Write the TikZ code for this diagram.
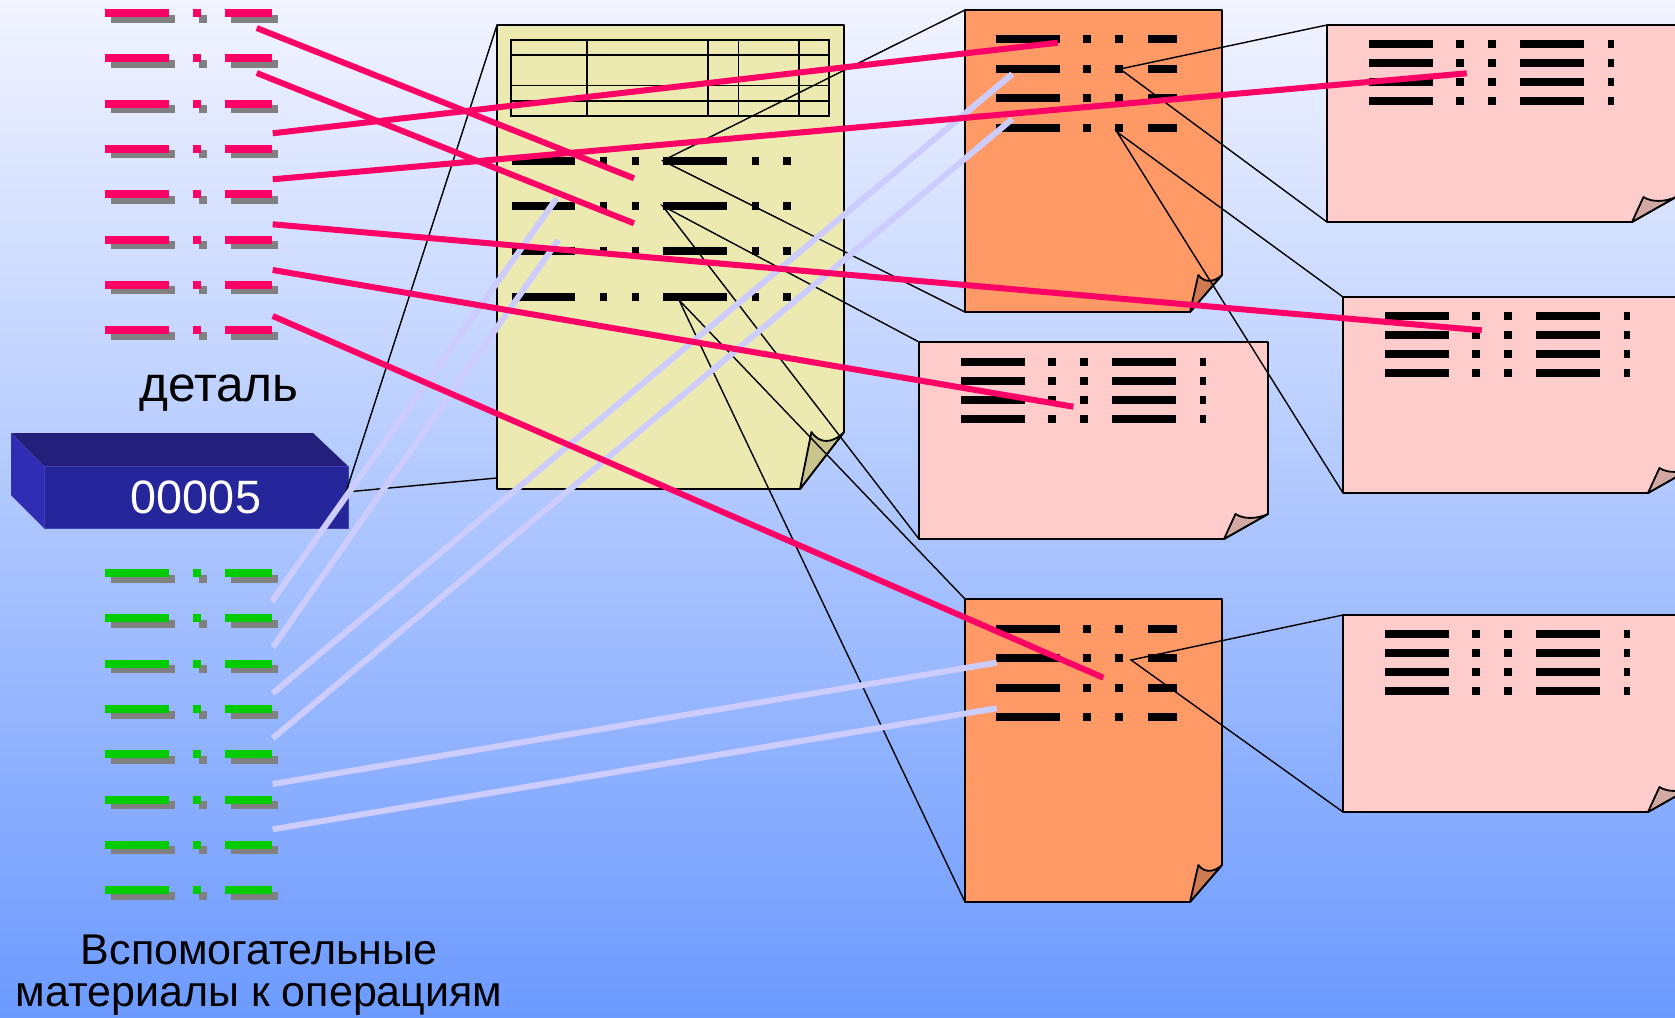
\documentclass[tikz,border=0pt]{standalone}
\usepackage{fontspec}
\setmainfont{Liberation Sans}

\definecolor{bgtop}{RGB}{242,244,255}
\definecolor{bgbot}{RGB}{108,154,255}
\definecolor{partred}{RGB}{255,0,102}
\definecolor{auxgreen}{RGB}{0,204,0}
\definecolor{dropgray}{RGB}{128,128,128}
\definecolor{linklav}{RGB}{204,204,255}
\definecolor{sheetyellow}{RGB}{236,234,176}
\definecolor{foldyellow}{RGB}{200,196,140}
\definecolor{sheetorange}{RGB}{255,153,102}
\definecolor{foldorange}{RGB}{208,122,82}
\definecolor{sheetpink}{RGB}{255,204,204}
\definecolor{foldpink}{RGB}{210,168,162}
\definecolor{boxfront}{RGB}{38,38,155}
\definecolor{boxtop}{RGB}{34,32,122}
\definecolor{boxside}{RGB}{48,44,180}
\definecolor{boxedge}{RGB}{62,62,190}

% A sheet of paper with a curled lower-right corner:
% #1 left, #2 top, #3 right, #4 bottom, #5 curl width, #6 curl height, #7 colour suffix
\newcommand\papersheet[7]{%
  \filldraw[sheetline, fill=sheet#7] (#1,#2) -- (#3,#2) -- (#3,#4-#6) -- (#3-#5,#4) -- (#1,#4) -- cycle;
  \filldraw[sheetline, fill=fold#7] (#3-#5,#4) -- (#3-0.74*#5,#4-#6)
     .. controls (#3-0.55*#5,#4-0.78*#6) and (#3-0.25*#5,#4-0.8*#6) .. (#3,#4-#6) -- cycle;
}
% Four rows of text marks: #1 left, #2 top of first row, #3 row pitch, #4 offset/width list
\newcommand\markrows[4]{%
  \foreach \k in {0,...,3}{\foreach \o/\w in {#4}{\fill[black] (#1+\o,#2+\k*#3) rectangle ++(\w,8);}}%
}
% Eight rows of coloured marks with a grey drop shadow: #1 top of first row, #2 colour
\newcommand\legendrows[2]{%
  \foreach \k in {0,...,7}{\foreach \o/\w in {105/64,193.3/7.7,225.3/46.7}{%
    \fill[dropgray] (\o+5.5,#1+\k*45.33+5.5) rectangle ++(\w,8);
    \fill[#2] (\o,#1+\k*45.33) rectangle ++(\w,8);}}%
}

\begin{document}
\begin{tikzpicture}[x=0.5pt,y=-0.5pt,
  sheetline/.style={draw=black, line width=0.9pt, line join=round},
  gridline/.style={draw=black, line width=0.8pt},
  callout/.style={draw=black, line width=0.7pt},
  partlink/.style={draw=partred, line width=3pt},
  auxlink/.style={draw=linklav, line width=3pt},
  caption/.style={text=black, font=\fontsize{21.5}{21}\selectfont, align=center, inner sep=0pt}]

\useasboundingbox (0,0) rectangle (1675,1017);
\clip (0,0) rectangle (1675,1017);
\shade[top color=bgtop, bottom color=bgbot] (0,0) rectangle (1675,1017);

% ---- part rows (red) and auxiliary material rows (green)
\legendrows{9}{partred}
\legendrows{569}{auxgreen}

\node[caption, anchor=base, font=\fontsize{24.8}{28}\selectfont] (partlabel) at (219,401) {деталь};
\node[caption, anchor=base] (auxlabel) at (259,1006) {Вспомогательные\\материалы к операциям};

% ---- the part block
\fill[boxtop] (11,433) -- (313,433) -- (348,466) -- (44,466) -- cycle;
\fill[boxside] (11,433) -- (44,466) -- (44,528) -- (11,495) -- cycle;
\filldraw[fill=boxfront, draw=boxedge, line width=0.5pt] (44,466) rectangle (348,528);
\node[text=white, font=\fontsize{23.4}{26}\selectfont, anchor=base, inner sep=0pt] (partid) at (196,513) {00005};

% ---- route sheet (yellow) with its title table
\papersheet{497}{25}{844}{489}{44}{57}{yellow}
\draw[gridline] (511,40) rectangle (829,116);
\foreach \yy in {55,85.3,100.7} \draw[gridline] (511,\yy) -- (829,\yy);
\foreach \xx in {586.7,708,738.3,799} \draw[gridline] (\xx,40) -- (\xx,116);
\markrows{497}{156.7}{45.3}{14.7/63.3,103/7.3,134.7/7.3,166.3/64,254.7/7.3,286.3/7.3}

% ---- operation sheets (orange)
\papersheet{965}{10}{1222}{312}{32}{37}{orange}
\markrows{965}{35.3}{29.4}{31/64,118/8,150/8,183/29}
\papersheet{965}{599}{1222}{902}{32}{37}{orange}
\markrows{965}{625}{29.4}{31/64,118/8,150/8,183/29}

% ---- detail sheets (pink)
\papersheet{919}{342}{1268}{539}{44}{25}{pink}
\markrows{919}{357.7}{19.1}{41.5/64,129.3/8,161.3/8,193.3/64,281.3/6}
\papersheet{1327}{25}{1676}{222}{44}{25}{pink}
\markrows{1327}{40}{19.1}{41.5/64,129.3/8,161.3/8,193.3/64,281.3/6}
\papersheet{1343}{297}{1692}{493}{44}{25}{pink}
\markrows{1343}{312}{19.1}{41.5/64,129.3/8,161.3/8,193.3/64,281.3/6}
\papersheet{1343}{615}{1692}{812}{44}{25}{pink}
\markrows{1343}{630}{19.1}{41.5/64,129.3/8,161.3/8,193.3/64,281.3/6}

% ---- named anchor points
\coordinate (box-e) at (346,492);
\coordinate (route-nw) at (497,25);
\coordinate (route-w) at (497,478);
\coordinate (route-r1) at (662.7,160.7);
\coordinate (route-r2) at (662.7,206);
\coordinate (route-r4) at (679,300);
\coordinate (opA-nw) at (965,10);
\coordinate (opA-sw) at (965,312);
\coordinate (opA-r2) at (1120,69);
\coordinate (opA-r4) at (1117,132);
\coordinate (opB-nw) at (965,599);
\coordinate (opB-sw) at (965,902);
\coordinate (opB-r2) at (1131,660);
\coordinate (detC-nw) at (919,342);
\coordinate (detC-sw) at (919,539);
\coordinate (detA-nw) at (1327,25);
\coordinate (detA-sw) at (1327,222);
\coordinate (detB-nw) at (1343,297);
\coordinate (detB-sw) at (1343,493);
\coordinate (detD-nw) at (1343,615);
\coordinate (detD-sw) at (1343,812);

% ---- zoom call-outs
\draw[callout] (route-nw) -- (box-e) -- (route-w);
\draw[callout] (opA-nw) -- (route-r1) -- (opA-sw);
\draw[callout] (detC-nw) -- (route-r2) -- (detC-sw);
\draw[callout] (opB-nw) -- (route-r4) -- (opB-sw);
\draw[callout] (detA-nw) -- (opA-r2) -- (detA-sw);
\draw[callout] (detB-nw) -- (opA-r4) -- (detB-sw);
\draw[callout] (detD-nw) -- (opB-r2) -- (detD-sw);

% ---- auxiliary material links
\coordinate (aux1) at (271.7,601.7);  \coordinate (aux1t) at (556.7,198.3);
\coordinate (aux2) at (272.7,647.3);  \coordinate (aux2t) at (558.3,240);
\coordinate (aux3) at (272.7,693.3);  \coordinate (aux3t) at (1012.3,74);
\coordinate (aux4) at (272.7,738.3);  \coordinate (aux4t) at (1012.3,119);
\coordinate (aux5) at (272.7,784);    \coordinate (aux5t) at (996.7,662.7);
\coordinate (aux6) at (272.7,829.3);  \coordinate (aux6t) at (996.7,708.3);
\foreach \i in {1,...,6} \draw[auxlink] (aux\i) -- (aux\i t);

% ---- part links
\coordinate (part1) at (256.7,28);    \coordinate (part1t) at (634,178.3);
\coordinate (part2) at (256.7,73);    \coordinate (part2t) at (634,223.3);
\coordinate (part3) at (272.7,133.3); \coordinate (part3t) at (1057.7,42.7);
\coordinate (part4) at (272.7,179.3); \coordinate (part4t) at (1466.7,73.3);
\coordinate (part5) at (272.7,224.3); \coordinate (part5t) at (1481.7,330.3);
\coordinate (part6) at (272.7,270);   \coordinate (part6t) at (1073.3,406.7);
\coordinate (part7) at (272.7,316);   \coordinate (part7t) at (1103.3,677.7);
\foreach \i in {1,...,7} \draw[partlink] (part\i) -- (part\i t);

\end{tikzpicture}
\end{document}
